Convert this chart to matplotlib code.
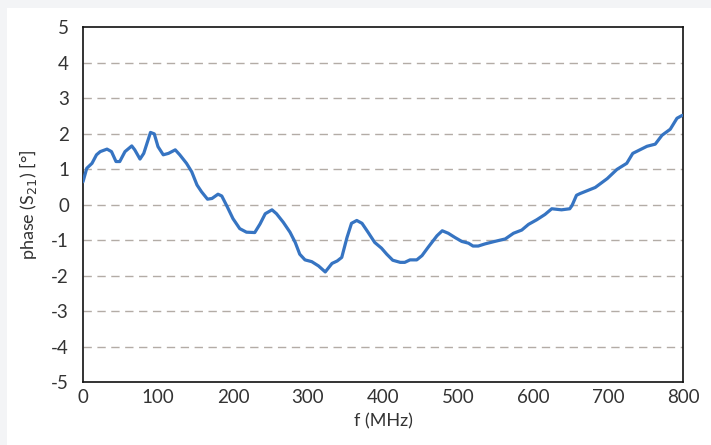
import matplotlib
matplotlib.use("Agg")
import matplotlib.pyplot as plt
import numpy as np

# phase of S21 vs frequency, read as (MHz, degrees)
freq_mhz = [0, 5, 12, 18, 23, 32, 38, 44, 49, 56, 65, 69, 76, 81, 90, 95,
            100, 107, 114, 123, 129, 138, 145, 152, 158, 166, 172, 180, 185,
            192, 200, 209, 218, 229, 236, 243, 252, 258, 267, 276, 283, 289,
            296, 305, 314, 323, 332, 339, 345, 352, 358, 365, 372, 380, 389,
            398, 405, 413, 423, 429, 436, 445, 452, 460, 472, 479, 487, 496,
            505, 514, 520, 527, 536, 549, 563, 574, 585, 594, 605, 616, 625,
            638, 649, 652, 658, 663, 683, 699, 712, 725, 733, 752, 763, 772,
            783, 792, 799]
phase_deg = [0.64, 1.02, 1.16, 1.40, 1.49, 1.56, 1.49, 1.21, 1.21, 1.49, 1.65,
             1.54, 1.28, 1.44, 2.03, 1.99, 1.63, 1.40, 1.44, 1.54, 1.40, 1.16,
             0.92, 0.55, 0.36, 0.15, 0.17, 0.29, 0.24, -0.05, -0.40, -0.68,
             -0.78, -0.79, -0.55, -0.26, -0.15, -0.26, -0.50, -0.78, -1.07,
             -1.40, -1.56, -1.61, -1.73, -1.90, -1.66, -1.59, -1.49, -0.93,
             -0.53, -0.45, -0.53, -0.78, -1.07, -1.23, -1.40, -1.57, -1.63,
             -1.63, -1.56, -1.56, -1.44, -1.21, -0.88, -0.74, -0.81, -0.93,
             -1.04, -1.09, -1.17, -1.17, -1.11, -1.04, -0.97, -0.81, -0.72,
             -0.56, -0.43, -0.28, -0.12, -0.15, -0.12, -0.03, 0.26, 0.31, 0.48,
             0.73, 0.99, 1.16, 1.44, 1.64, 1.70, 1.95, 2.12, 2.43, 2.51]

x_ticks = [0, 100, 200, 300, 400, 500, 600, 700, 800]
y_ticks = [-5, -4, -3, -2, -1, 0, 1, 2, 3, 4, 5]

plt.rcParams['font.family'] = ['Lato', 'DejaVu Sans']
plt.rcParams['axes.unicode_minus'] = False
text_color = '#333333'

W, H = 711, 445
fig = plt.figure(figsize=(W / 100, H / 100), dpi=100, facecolor='#f3f4f6')
# white card inside the light grey frame
card = fig.add_axes([7 / W, 0, 1 - 7 / W, 1 - 8 / H], zorder=-10)
card.axis('off')
card.add_patch(plt.Rectangle((0, 0), 1, 1, transform=card.transAxes,
                             facecolor='white', edgecolor='none'))

ax = fig.add_axes([83 / W, 1 - 382 / H, 600 / W, 355 / H])
ax.set_facecolor('white')

for yv in y_ticks[1:-1]:
    ax.axhline(yv, color='#b3aca6', linewidth=1.0, linestyle=(0, (6, 4)), zorder=1)

ax.plot(freq_mhz, phase_deg, color='#3674c2', linewidth=2.3, zorder=3,
        solid_joinstyle='round', solid_capstyle='round')

ax.set_xlim(0, 800)
ax.set_ylim(-5, 5)
ax.set_xticks(x_ticks)
ax.set_yticks(y_ticks)
ax.tick_params(axis='both', length=0, labelsize=13.5, colors=text_color)
ax.tick_params(axis='x', pad=5)
ax.tick_params(axis='y', pad=10)

for s in ax.spines.values():
    s.set_color('#111111')
    s.set_linewidth(1.2)

ax.set_xlabel('f (MHz)', fontsize=13, color=text_color, labelpad=5)
ax.set_ylabel('phase (S$_{21}$) [°]', fontsize=13, color=text_color, labelpad=9)

fig.savefig('out.png', dpi=100, facecolor=fig.get_facecolor())
